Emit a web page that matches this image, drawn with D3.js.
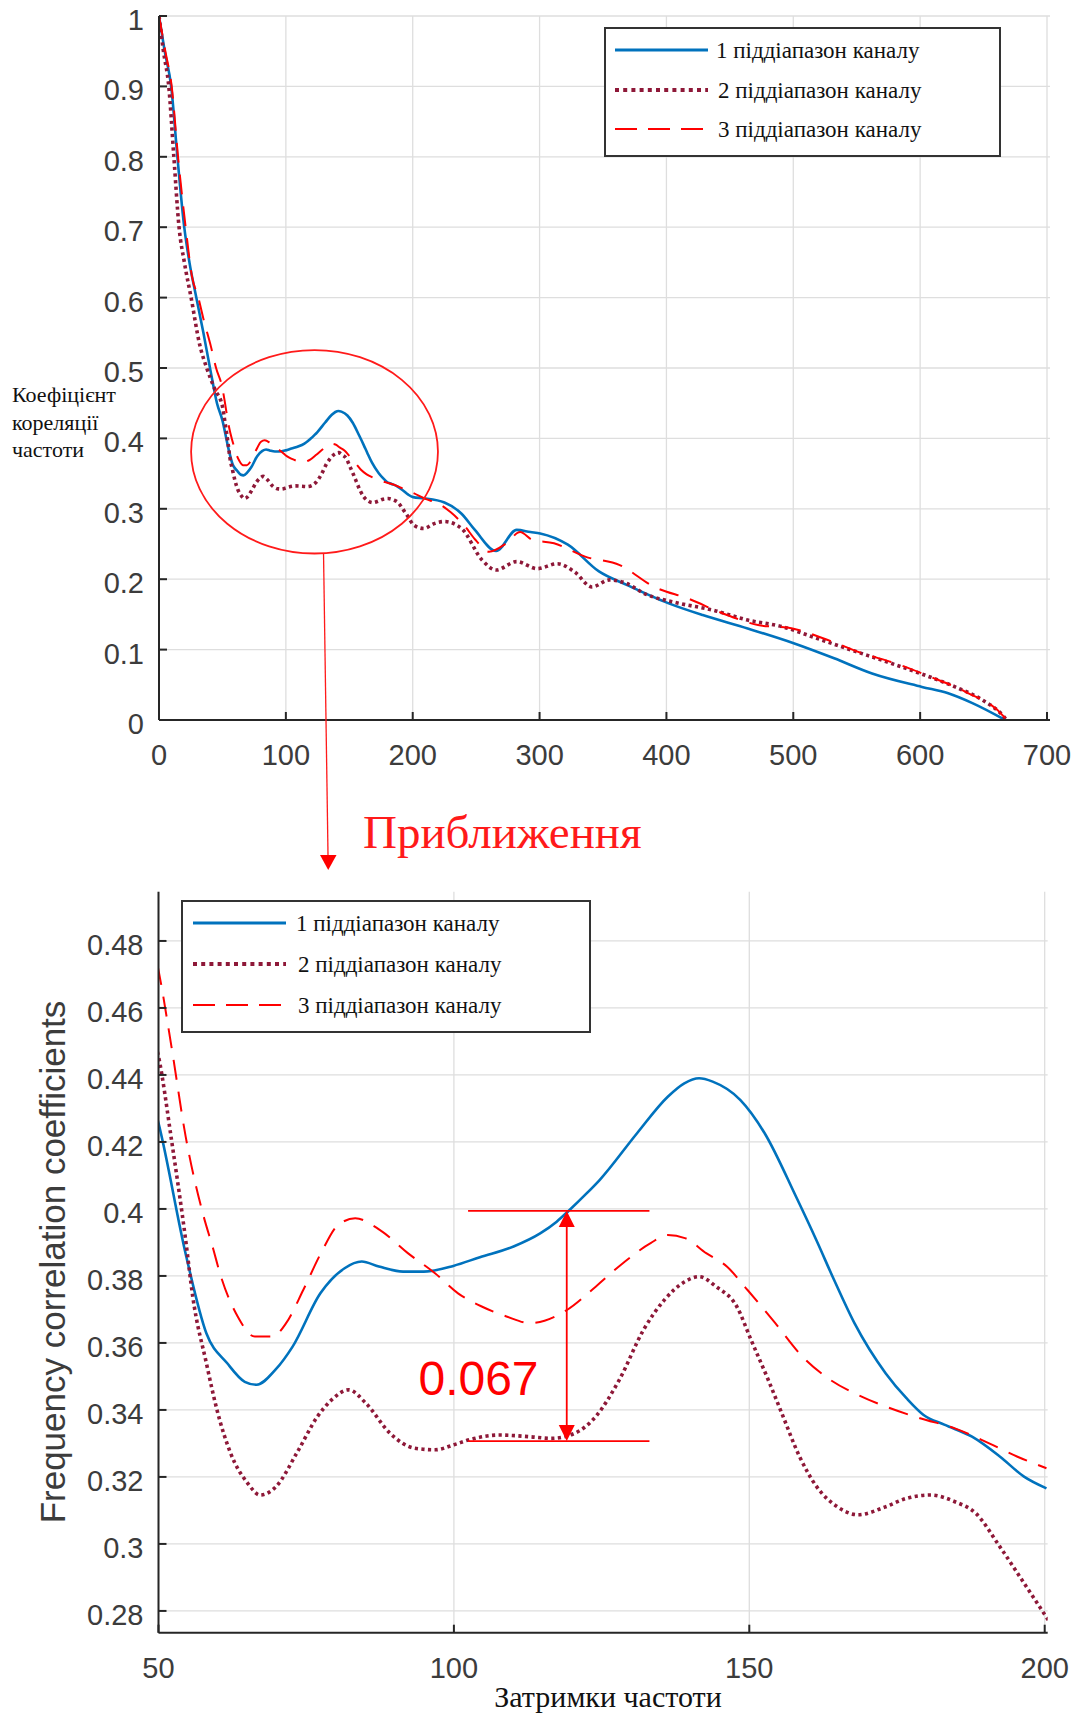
<!DOCTYPE html>
<html lang="uk">
<head>
<meta charset="utf-8">
<title>Frequency correlation</title>
<script src="https://d3js.org/d3.v7.min.js"></script>
<style>
 body { margin: 0; background: #fff; }
 svg { display: block; }
 .tick-label { font-family: "Liberation Sans", Arial, sans-serif; fill: #3c3c3c; }
 .serif { font-family: "Liberation Serif", "Times New Roman", serif; }
</style>
</head>
<body>
<div id="chart"></div>
<script>
// Data: [delay, coefficient]
const band1 = [[0,1],[4.5,0.95],[9.6,0.9],[14.5,0.8],[19.9,0.7],[24,0.65],[29.4,0.6],[35,0.55],[40.2,0.5],[45.7,0.45],
  [50,0.4256],[54.7,0.3858],[58.1,0.3629],[61.6,0.354],[64.6,0.3484],[66.6,0.3475],[69.8,0.352],[72.7,0.3589],[77.4,0.3748],
  [81.5,0.3823],[84.4,0.3843],[87.3,0.3828],[91.4,0.3813],[94.9,0.3813],[99.9,0.383],[104.4,0.3856],[110.1,0.3888],
  [114.6,0.3927],[117.4,0.3962],[119.4,0.3994],[122.5,0.4047],[124.7,0.4087],[131,0.4226],[136.2,0.4335],[139,0.4375],
  [141.5,0.439],[143.8,0.438],[148.5,0.4325],[152.6,0.4226],[157.9,0.4037],[161.4,0.3905],[164.3,0.379],[167.8,0.3659],
  [173.1,0.3509],[176.6,0.3435],[179.5,0.3385],[183,0.3356],[187.7,0.332],[192.4,0.3261],[196.5,0.3201],[200.3,0.3166],
  [208.7,0.315],[225,0.309],[238.5,0.293],[249,0.27],[265.7,0.24],[282,0.27],[292.8,0.267],[300.5,0.265],[322.3,0.249],
  [346.8,0.211],[368.6,0.192],[401.3,0.166],[428.6,0.149],[464,0.13],[500.3,0.109],[532.2,0.0876],[562.1,0.066],
  [601.4,0.047],[622.1,0.038],[641.2,0.024],[667.1,0]];

const band2 = [[0,1],[3.5,0.95],[7.7,0.9],[11.7,0.8],[15.8,0.7],[20,0.65],[25.3,0.6],[32.1,0.533],[37.6,0.5],[44,0.47],
  [50,0.4455],[52.2,0.4206],[54.6,0.3907],[55.8,0.3738],[58.1,0.354],[59.9,0.34],[62.2,0.3271],[65.1,0.3181],[67.2,0.3146],
  [69.9,0.3171],[73.4,0.3271],[76.9,0.338],[79.3,0.343],[82.2,0.346],[85.1,0.342],[89.2,0.333],[93.3,0.3286],[96.8,0.3281],
  [100,0.3296],[102.4,0.331],[107.7,0.3325],[112.9,0.332],[116.5,0.3315],[120.4,0.333],[124,0.338],[128,0.349],[132.1,0.3639],
  [135.6,0.3728],[139.1,0.3783],[141.5,0.3798],[144.4,0.3768],[147.9,0.3708],[150.3,0.3609],[153.2,0.349],[155.5,0.339],
  [158.5,0.3261],[161.4,0.3171],[164.9,0.3111],[168.4,0.3087],[173.1,0.3111],[176.6,0.3136],[180.7,0.3146],[184.8,0.3126],
  [188.3,0.3092],[192.4,0.2992],[196.5,0.2883],[200.6,0.2773],
  [208.7,0.272],[217,0.279],[224.9,0.282],[238.5,0.272],[254.8,0.227],[265.7,0.213],[281.9,0.225],[298.3,0.215],[314.1,0.222],
  [327.8,0.21],[341.3,0.189],[355,0.199],[368.6,0.194],[382.3,0.18],[409.5,0.166],[436.8,0.156],[464,0.142],[491.3,0.1325],
  [518.5,0.116],[545.8,0.0994],[573.1,0.083],[600.3,0.066],[627.6,0.047],[649.4,0.028],[665.8,0.005],[668,0]];

const band3 = [[0,1],[5,0.95],[10,0.9],[15,0.8],[21,0.7],[26,0.63],[31,0.6],[35,0.57],[41,0.53],[45,0.5],
  [50,0.4713],[52.2,0.4484],[54.6,0.4216],[57.5,0.3987],[59.3,0.3878],[60.4,0.3808],[63.4,0.3679],[66.3,0.3619],[69.3,0.3619],
  [71.6,0.3659],[74.5,0.3758],[77.5,0.3868],[80.4,0.3952],[83.3,0.3972],[87.5,0.3937],[92.2,0.3868],[96.8,0.3808],
  [100.7,0.3748],[104.8,0.3708],[108.9,0.3679],[112.9,0.3659],[119.2,0.3699],[124,0.3768],[128.6,0.3838],[133.3,0.3898],
  [136.2,0.3922],[139.1,0.3913],[142.7,0.3868],[146.2,0.3828],[149.7,0.3758],[154.4,0.3659],[159,0.3559],[163.7,0.349],
  [168.4,0.3445],[173.1,0.341],[178.9,0.3375],[184.8,0.3345],[190.6,0.33],[195.3,0.3261],[200.3,0.3226],
  [210,0.314],[219.5,0.308],[230,0.295],[241.2,0.275],[249.4,0.256],[260.2,0.239],[273.8,0.251],[284.7,0.267],[294.2,0.256],
  [311.4,0.251],[335.9,0.232],[363.2,0.22],[390.5,0.189],[417.7,0.172],[445,0.151],[472.2,0.135],[499.4,0.13],[526.7,0.114],
  [554,0.095],[581.2,0.08],[608.5,0.061],[635.8,0.04],[665.8,0.005],[668,0]];

const seriesNames = ['1 піддіапазон каналу', '2 піддіапазон каналу', '3 піддіапазон каналу'];

const topXTicks = [0, 100, 200, 300, 400, 500, 600, 700];
const topYTicks = [0, 0.1, 0.2, 0.3, 0.4, 0.5, 0.6, 0.7, 0.8, 0.9, 1];
const zoomXTicks = [50, 100, 150, 200];
const zoomYTicks = [0.28, 0.3, 0.32, 0.34, 0.36, 0.38, 0.4, 0.42, 0.44, 0.46, 0.48];

// annotation: difference between band 1 and band 2 at delay ~119
const gapDelay = 119.1;
const gapHigh = 0.3994;
const gapLow = 0.3307;
const gapLabel = '0.067';

// Styles
const styles = [
  {color: '#0072BD', width: 2.6, dash: null, legendDash: null},
  {color: '#8e1838', width: 3.6, dash: '3.2 3.4', legendDash: '4 4.2'},
  {color: '#ff0000', width: 2, dash: '20 12', legendDash: '22 11'}
];
const allSeries = [band1, band2, band3];

const svg = d3.select('#chart').append('svg').attr('width', 1082).attr('height', 1718);
svg.append('rect').attr('width', 1082).attr('height', 1718).attr('fill', '#fff');

function drawPanel(opt) {
  const x = opt.x, y = opt.y;
  const [x0, x1] = x.range();
  const [yb, yt] = y.range();
  const g = svg.append('g');

  // grid
  g.selectAll('.vg').data(opt.xTicks).enter().append('line')
   .attr('x1', d => x(d)).attr('x2', d => x(d)).attr('y1', yt).attr('y2', yb)
   .attr('stroke', '#dedede').attr('stroke-width', 1.3);
  g.selectAll('.hg').data(opt.yTicks).enter().append('line')
   .attr('x1', x0).attr('x2', x1 + 3).attr('y1', d => y(d)).attr('y2', d => y(d))
   .attr('stroke', '#dedede').attr('stroke-width', 1.3);

  // clip
  const cid = 'clip' + opt.id;
  svg.append('clipPath').attr('id', cid).append('rect')
     .attr('x', x0).attr('y', yt - 2).attr('width', x1 - x0 + 3).attr('height', yb - yt + 2);

  const line = d3.line().x(d => x(d[0])).y(d => y(d[1])).curve(d3.curveMonotoneX);
  const lines = g.append('g').attr('clip-path', 'url(#' + cid + ')');
  allSeries.forEach((s, i) => {
    const pts = s.filter(d => d[0] >= opt.domainMin - 6 && d[0] <= opt.domainMax + 6);
    lines.append('path').datum(pts)
      .attr('d', line).attr('fill', 'none')
      .attr('stroke', styles[i].color).attr('stroke-width', styles[i].width)
      .attr('stroke-dasharray', styles[i].dash)
      .attr('stroke-linejoin', 'round');
  });

  // axes
  g.append('line').attr('x1', x0).attr('x2', x0).attr('y1', opt.axisTop).attr('y2', yb)
   .attr('stroke', '#262626').attr('stroke-width', 2);
  g.append('line').attr('x1', x0).attr('x2', x1 + 3).attr('y1', yb).attr('y2', yb)
   .attr('stroke', '#262626').attr('stroke-width', 2);
  g.selectAll('.xt').data(opt.xTicks).enter().append('line')
   .attr('x1', d => x(d)).attr('x2', d => x(d)).attr('y1', yb).attr('y2', yb - 8)
   .attr('stroke', '#262626').attr('stroke-width', 2);
  g.selectAll('.yt').data(opt.yTicks).enter().append('line')
   .attr('x1', x0).attr('x2', x0 + 8).attr('y1', d => y(d)).attr('y2', d => y(d))
   .attr('stroke', '#262626').attr('stroke-width', 2);

  g.selectAll('.xl').data(opt.xTicks).enter().append('text')
   .attr('class', 'tick-label').attr('x', d => x(d)).attr('y', opt.xLabelY)
   .attr('text-anchor', 'middle').style('font-size', opt.fontSize + 'px').text(d => d);
  g.selectAll('.yl').data(opt.yTicks).enter().append('text')
   .attr('class', 'tick-label').attr('x', x0 - 15).attr('y', d => y(d) + 14)
   .attr('text-anchor', 'end').style('font-size', opt.fontSize + 'px').text(d => opt.yFormat(d));

  // legend
  const lg = g.append('g');
  lg.append('rect').attr('x', opt.legend.x).attr('y', opt.legend.y)
    .attr('width', opt.legend.w).attr('height', opt.legend.h)
    .attr('fill', '#fff').attr('stroke', '#333').attr('stroke-width', 2);
  seriesNames.forEach((name, i) => {
    const ry = opt.legend.rows[i];
    lg.append('line').attr('x1', opt.legend.lx1).attr('x2', opt.legend.lx2)
      .attr('y1', ry).attr('y2', ry)
      .attr('stroke', styles[i].color).attr('stroke-width', i === 1 ? 4 : (i === 0 ? 3 : 2))
      .attr('stroke-dasharray', styles[i].legendDash);
    lg.append('text').attr('class', 'serif').attr('x', opt.legend.tx + (i ? 2 : 0)).attr('y', ry + 8)
      .style('font-size', '23px').attr('fill', '#111').text(name);
  });
  return g;
}

// Top panel
const xTop = d3.scaleLinear().domain([0, 700]).range([159, 1047]);
const yTop = d3.scaleLinear().domain([0, 1]).range([720, 16]);
drawPanel({
  id: 'top', x: xTop, y: yTop, xTicks: topXTicks, yTicks: topYTicks,
  domainMin: 0, domainMax: 700, axisTop: 16, xLabelY: 765, fontSize: 29,
  yFormat: d => d3.format('~g')(d),
  legend: {x: 605, y: 28, w: 395, h: 128, rows: [50, 90, 129], lx1: 615, lx2: 708, tx: 716}
});

// top y label
['Коефіцієнт', 'кореляції', 'частоти'].forEach((t, i) => {
  svg.append('text').attr('class', 'serif').attr('x', 12).attr('y', 402 + i * 27.5)
     .style('font-size', '22px').attr('fill', '#111').text(t);
});

// zoom ellipse and arrow
const ell = {cx: 122.6, cy: 0.381, rx: 97.3, ry: 0.1445};
const ecx = xTop(ell.cx), ecy = yTop(ell.cy);
const erx = xTop(ell.cx + ell.rx) - ecx, ery = yTop(ell.cy - ell.ry) - ecy;
svg.append('ellipse').attr('cx', ecx).attr('cy', ecy).attr('rx', erx).attr('ry', ery)
   .attr('fill', 'none').attr('stroke', '#ff1a1a').attr('stroke-width', 1.8);
svg.append('line').attr('x1', ecx + 9).attr('y1', ecy + ery).attr('x2', ecx + 13.5).attr('y2', 856)
   .attr('stroke', '#ff1a1a').attr('stroke-width', 1.3);
svg.append('path').attr('d', `M${ecx + 5.5},855 L${ecx + 22},855 L${ecx + 13.7},870 Z`).attr('fill', '#ff0000');
svg.append('text').attr('class', 'serif').attr('x', 363).attr('y', 848)
   .style('font-size', '47px').attr('fill', '#ff1a1a').text('Приближення');

// Bottom (zoomed) panel
const xZoom = d3.scaleLinear().domain([50, 200]).range([158.5, 1044.7]);
const yZoom = d3.scaleLinear().domain([0.2735, 0.4947]).range([1632.7, 891.7]);
drawPanel({
  id: 'zoom', x: xZoom, y: yZoom, xTicks: zoomXTicks, yTicks: zoomYTicks,
  domainMin: 50, domainMax: 200, axisTop: 891.7, xLabelY: 1678, fontSize: 29,
  yFormat: d => d3.format('~g')(d),
  legend: {x: 182, y: 901, w: 408, h: 131, rows: [923, 964, 1005], lx1: 193, lx2: 286, tx: 296}
});

svg.append('text').attr('class', 'tick-label')
   .attr('transform', 'translate(65,1262) rotate(-90)')
   .attr('text-anchor', 'middle').style('font-size', '35px').attr('fill', '#3a3a3a')
   .text('Frequency correlation coefficients');
svg.append('text').attr('class', 'serif').attr('x', 608).attr('y', 1707)
   .attr('text-anchor', 'middle').style('font-size', '30px').attr('fill', '#111')
   .text('Затримки частоти');

// difference annotation
const ax = xZoom(gapDelay), ayH = yZoom(gapHigh), ayL = yZoom(gapLow);
[ayH, ayL].forEach(yy => {
  svg.append('line').attr('x1', xZoom(102.4)).attr('x2', xZoom(133.1)).attr('y1', yy).attr('y2', yy)
     .attr('stroke', '#ff0000').attr('stroke-width', 1.8);
});
svg.append('line').attr('x1', ax).attr('x2', ax).attr('y1', ayH + 12).attr('y2', ayL - 12)
   .attr('stroke', '#ff0000').attr('stroke-width', 1.8);
svg.append('path').attr('d', `M${ax},${ayH} L${ax - 8},${ayH + 16} L${ax + 8},${ayH + 16} Z`).attr('fill', '#ff0000');
svg.append('path').attr('d', `M${ax},${ayL} L${ax - 8},${ayL - 16} L${ax + 8},${ayL - 16} Z`).attr('fill', '#ff0000');
svg.append('text').attr('x', xZoom(94.0)).attr('y', yZoom(0.3445))
   .style('font-family', '"Liberation Sans", Arial, sans-serif').style('font-size', '48px')
   .attr('fill', '#ff0000').text(gapLabel);
</script>
</body>
</html>
